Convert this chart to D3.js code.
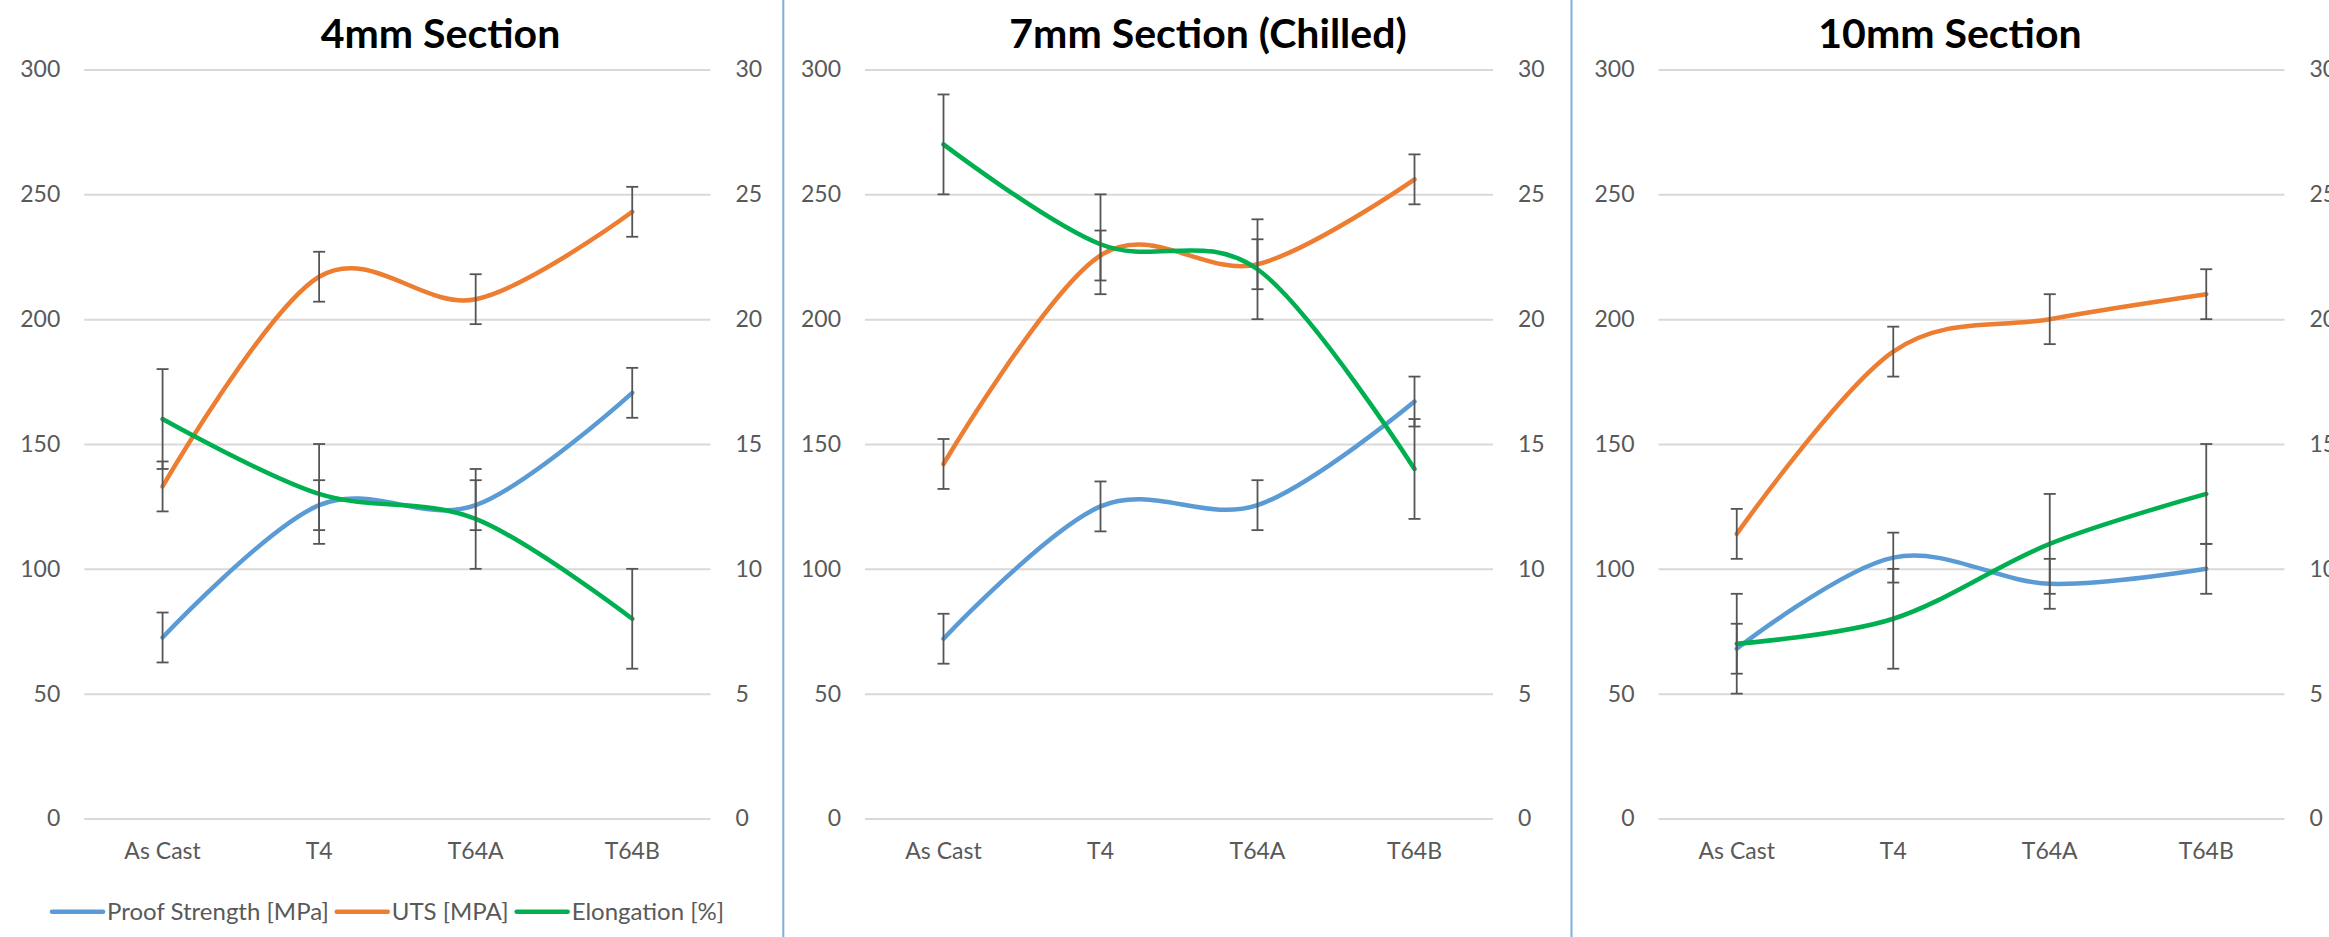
<!DOCTYPE html>
<html lang="en">
<head>
    <meta charset="UTF-8">
    <title>Section Properties</title>
    <script src="https://d3js.org/d3.v7.min.js"></script>
    <style>
        body {
            margin: 0;
            padding: 0;
            background-color: white;
            font-family: Lato, 'Open Sans', sans-serif;
        }
        svg { display: block; }
        .tick text { fill: #595959; font-size: 23px; font-family: Lato, sans-serif; }
        .grid line { stroke: #d9d9d9; stroke-width: 2; }
        .title { font-weight: bold; font-size: 41px; fill: #000; }
        .legend text { fill: #595959; font-size: 24px; }
    </style>
</head>
<body>
    <svg width="2329" height="937"></svg>

    <script>
        // data
        const categories = ["As Cast", "T4", "T64A", "T64B"];
        const panelTitles = ["4mm Section", "7mm Section (Chilled)", "10mm Section"];
        const seriesNames = ["Proof Strength [MPa]", "UTS [MPA]", "Elongation [%]"];

        const proofStrength = [[72.5, 125.5, 125.5, 170.5], [72, 125, 125.5, 167], [68, 104.5, 94, 100]];
        const proofError    = [[10, 10, 10, 10], [10, 10, 10, 10], [10, 10, 10, 10]];
        const uts           = [[133, 217, 208, 243], [142, 225.5, 222, 256], [114, 187, 200, 210]];
        const utsError      = [[10, 10, 10, 10], [10, 10, 10, 10], [10, 10, 10, 10]];
        const elongation    = [[16, 13, 12, 8], [27, 23, 22, 14], [7, 8, 11, 13]];
        const elongError    = [[2, 2, 2, 2], [2, 2, 2, 2], [2, 2, 2, 2]];

        const leftTicks = [0, 50, 100, 150, 200, 250, 300];
        const rightTicks = [0, 5, 10, 15, 20, 25, 30];

        const colors = ["#5b9bd5", "#ed7d31", "#00b050"];

        const svg = d3.select("svg");
        const yTop = 69.5, yBottom = 818.5;

        // plot areas of the three panels
        const panels = [
            {left: 84.3, right: 710.5, titleX: 440.5},
            {left: 865, right: 1493, titleX: 1208},
            {left: 1658.5, right: 2284.5, titleX: 1950}
        ];

        const yLeft = d3.scaleLinear().domain([0, 300]).range([yBottom, yTop]);
        const yRight = d3.scaleLinear().domain([0, 30]).range([yBottom, yTop]);

        const line = d3.line().curve(d3.curveCardinal.tension(0));

        // separators between panels
        [783.3, 1571.5].forEach(xs => {
            svg.append("line")
              .attr("x1", xs).attr("x2", xs)
              .attr("y1", 0).attr("y2", 937)
              .attr("stroke", "#7eb0e2")
              .attr("stroke-width", 2);
        });

        panels.forEach((p, i) => {
            const w = p.right - p.left;
            const x = d3.scaleBand().domain(categories).range([0, w]).padding(0);
            const cx = c => x(c) + x.bandwidth() / 2;

            const g = svg.append("g").attr("transform", `translate(${p.left},0)`);

            // gridlines
            g.append("g")
              .attr("class", "grid")
              .call(d3.axisLeft(yLeft).tickValues(leftTicks).tickSize(-w).tickFormat(""))
              .call(s => s.select(".domain").remove());

            g.append("g")
              .call(d3.axisLeft(yLeft).tickValues(leftTicks).tickSize(0).tickPadding(24))
              .call(s => s.select(".domain").remove());

            g.append("g")
              .attr("transform", `translate(${w},0)`)
              .call(d3.axisRight(yRight).tickValues(rightTicks).tickSize(0).tickPadding(25))
              .call(s => s.select(".domain").remove());

            g.append("g")
              .attr("transform", `translate(0,${yBottom})`)
              .call(d3.axisBottom(x).tickSize(0).tickPadding(24))
              .call(s => s.select(".domain").remove());

            g.append("text")
              .attr("class", "title")
              .attr("x", p.titleX - p.left)
              .attr("y", 48)
              .attr("text-anchor", "middle")
              .text(panelTitles[i]);

            const series = [
                {vals: proofStrength[i], err: proofError[i], y: yLeft},
                {vals: uts[i], err: utsError[i], y: yLeft},
                {vals: elongation[i], err: elongError[i], y: yRight}
            ];

            series.forEach((s, k) => {
                const pts = categories.map((c, j) => [cx(c), s.y(s.vals[j])]);
                g.append("path")
                  .attr("d", line(pts))
                  .attr("fill", "none")
                  .attr("stroke", colors[k])
                  .attr("stroke-width", 4.5)
                  .attr("stroke-linecap", "round");

                const bars = g.append("g")
                  .attr("stroke", "#555")
                  .attr("stroke-width", 1.8);
                categories.forEach((c, j) => {
                    const hi = s.y(s.vals[j] + s.err[j]), lo = s.y(s.vals[j] - s.err[j]);
                    bars.append("line").attr("x1", cx(c)).attr("x2", cx(c)).attr("y1", hi).attr("y2", lo);
                    bars.append("line").attr("x1", cx(c) - 6).attr("x2", cx(c) + 6).attr("y1", hi).attr("y2", hi);
                    bars.append("line").attr("x1", cx(c) - 6).attr("x2", cx(c) + 6).attr("y1", lo).attr("y2", lo);
                });
            });
        });

        // legend under the first panel
        const legend = svg.append("g").attr("class", "legend");
        let lx = 52;
        const ly = 911.7;
        seriesNames.forEach((name, k) => {
            legend.append("line")
              .attr("x1", lx).attr("x2", lx + 51)
              .attr("y1", ly).attr("y2", ly)
              .attr("stroke", colors[k])
              .attr("stroke-width", 4.5)
              .attr("stroke-linecap", "round");
            const t = legend.append("text")
              .attr("x", lx + 55)
              .attr("y", ly)
              .attr("dy", "0.35em")
              .text(name);
            lx += 55 + t.node().getComputedTextLength() + 8;
        });
    </script>
</body>
</html>
